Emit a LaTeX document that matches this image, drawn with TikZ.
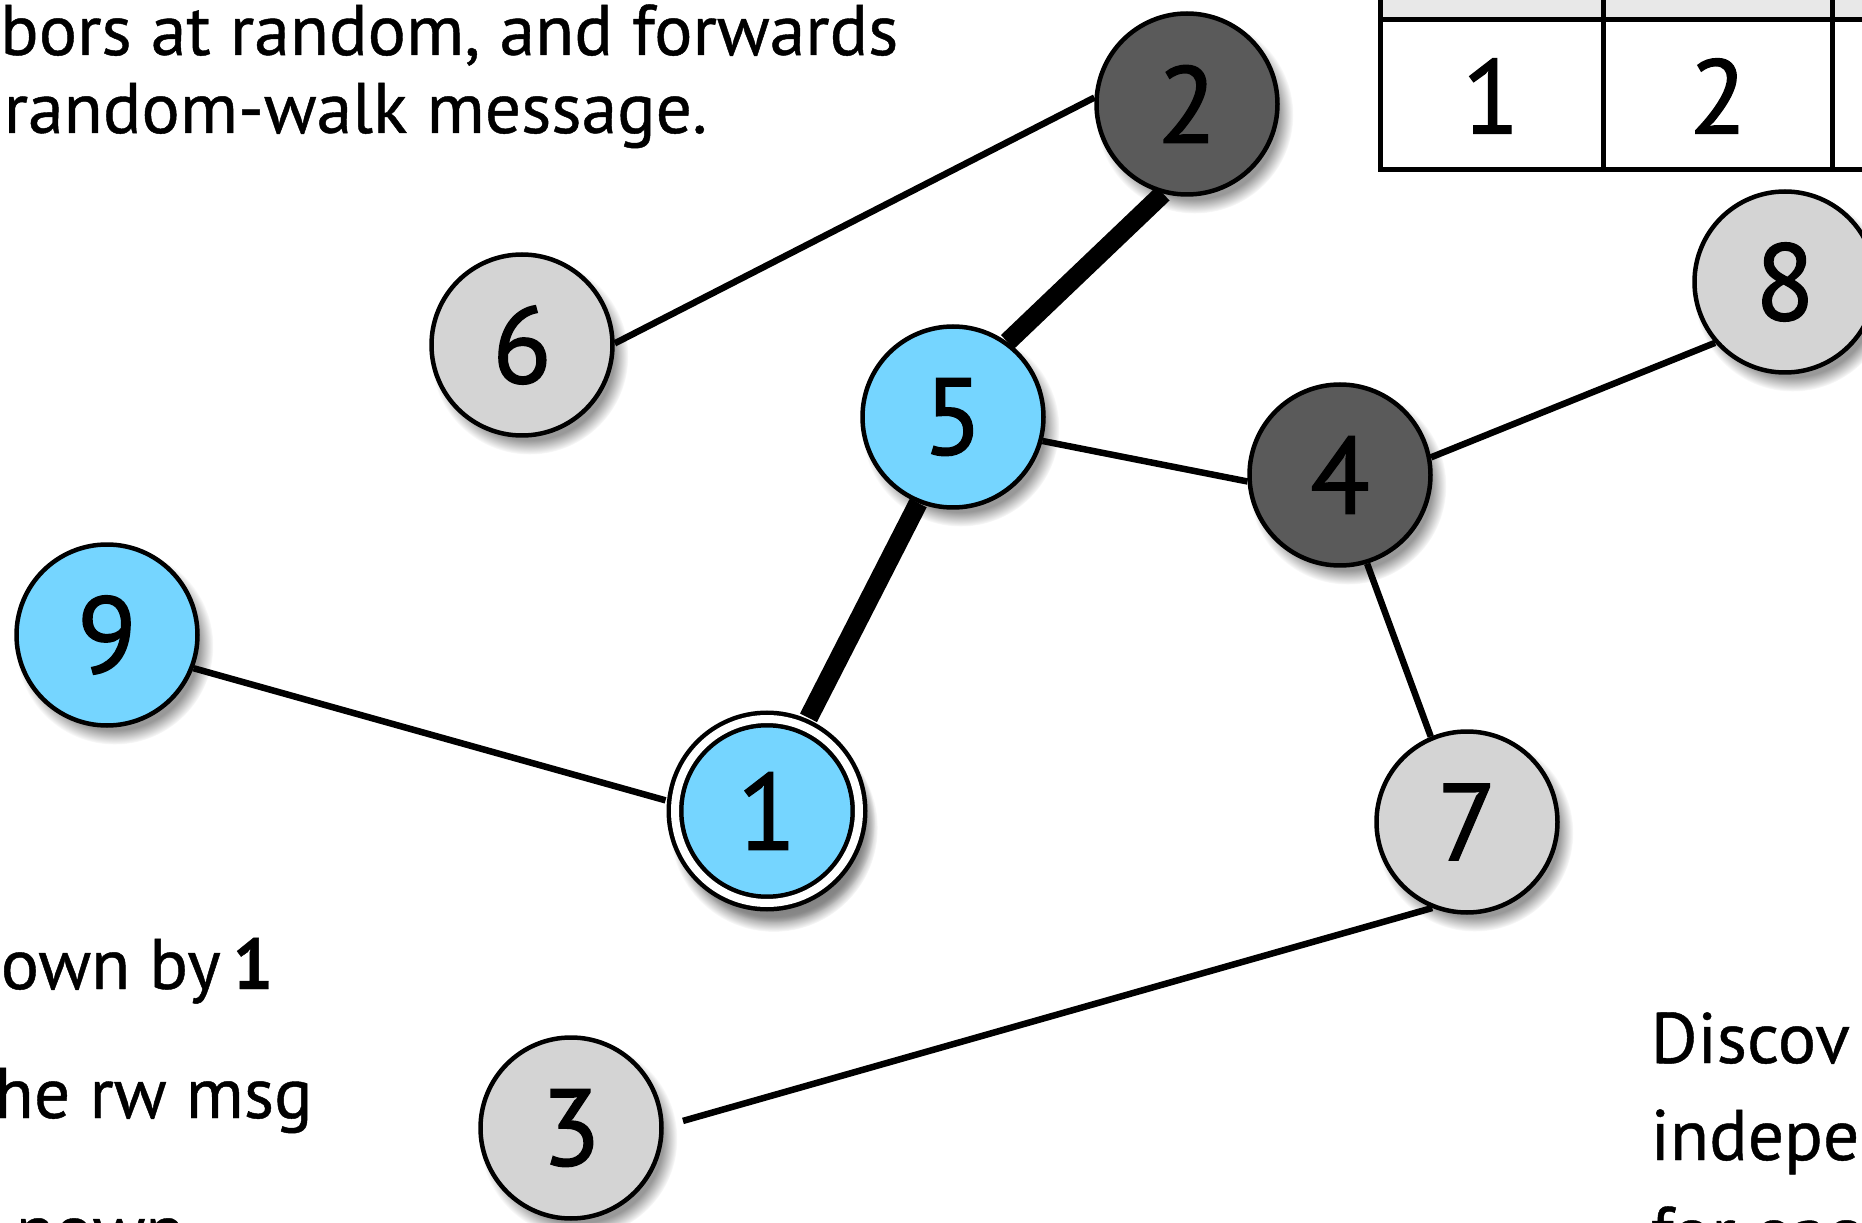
\documentclass[tikz,border=0pt]{standalone}
\usepackage{fontspec}
\setmainfont{PT Sans}
\newfontfamily\peerfont{PT Sans}[RawFeature={embolden=1.2}]
\newfontfamily\slidefont{PT Sans}[RawFeature={embolden=0.6}]
\usetikzlibrary{shadows}
\definecolor{peerblue}{RGB}{117,213,255}
\definecolor{peerlight}{RGB}{212,212,212}
\definecolor{peerdark}{RGB}{90,90,90}
\definecolor{headgray}{RGB}{232,232,232}
\tikzset{
    peer/.style={
            circle, draw, line width=0.45mm, minimum size=18.1mm, inner sep=0pt,
            font=\peerfont\fontsize{31}{34}\selectfont,
            circular drop shadow={shadow xshift=0.7mm, shadow yshift=-1mm, shadow scale=1.09, opacity=0.8}
        },
    blue peer/.style={peer, fill=peerblue},
    light peer/.style={peer, fill=peerlight},
    dark peer/.style={peer, fill=peerdark},
    start peer/.style={
            blue peer, minimum size=18.4mm, double=white, double distance=0.8mm, outer sep=1mm,
            circular drop shadow={shadow xshift=0.6mm, shadow yshift=-1.5mm, shadow scale=1.13, opacity=0.9}
        },
    link/.style={line width=0.65mm},
    walk/.style={line width=1.9mm},
    txt/.style={inner sep=0pt, font=\slidefont\fontsize{20.4}{24}\selectfont},
    cell/.style={inner sep=0pt, font=\peerfont\fontsize{30}{34}\selectfont},
}

\begin{document}
\begin{tikzpicture}[x=0.1mm, y=-0.1mm]
        \useasboundingbox (0,0) rectangle (1862,1223);
        \clip (0,0) rectangle (1862,1223);
        %table of visited peers
        \fill[headgray] (1380,-10) rectangle (1900,20);
        \draw[line width=0.5mm] (1380,-10) -- (1380,170) -- (1900,170);
        \draw[line width=0.5mm] (1380,20) -- (1900,20);
        \draw[line width=0.5mm] (1603,-10) -- (1603,170);
        \draw[line width=0.5mm] (1832,-10) -- (1832,170);
        \node[cell] (cellA) at (1491,96) {1};
        \node[cell] (cellB) at (1718,96) {2};
        %text around the graph
        \node[txt, anchor=base east] (introA) at (899,55) {bors at random, and forwards};
        \node[txt, anchor=base west] (introB) at (3,133) {random-walk message.};
        \node[txt, anchor=base west] (keyA) at (0,989) {own by\,\textbf{1}};
        \node[txt, anchor=base west] (keyB) at (-6,1118) {he rw msg};
        \node[txt, anchor=base west] (keyC) at (15,1255) {nown};
        \node[txt, anchor=base west] (noteA) at (1650,1063) {Discov};
        \node[txt, anchor=base west] (noteB) at (1650,1160) {indepe};
        \node[txt, anchor=base west] (noteC) at (1650,1257) {for eac};
        %draw peers
        \node[dark peer] (p2) at (1187,104) {2};
        \node[light peer] (p6) at (522,345) {6};
        \node[blue peer] (p5) at (953,417) {5};
        \node[dark peer] (p4) at (1340,475) {4};
        \node[light peer] (p8) at (1785,282) {8};
        \node[blue peer] (p9) at (107,635) {9};
        \node[start peer] (p1) at (767,811) {1};
        \node[light peer] (p7) at (1467,822) {7};
        \node[light peer] (p3) at (571,1128) {3};
        %draw links
        \draw[link] (p6.1) -- (p2.176);
        \draw[walk] (p2.255) -- (p5.54);
        \draw[link] (p5.-15) -- (p4.184);
        \draw[link] (p4.11) -- (p8.221);
        \draw[walk] (p5.248) -- (p1.66);
        \draw[link] (p9.-21) -- (p1.174);
        \draw[link] (p4.-73) -- (p7.113);
        \draw[link, shorten >=2mm] (p7.248) -- (p3.1);
    \end{tikzpicture}
\end{document}
